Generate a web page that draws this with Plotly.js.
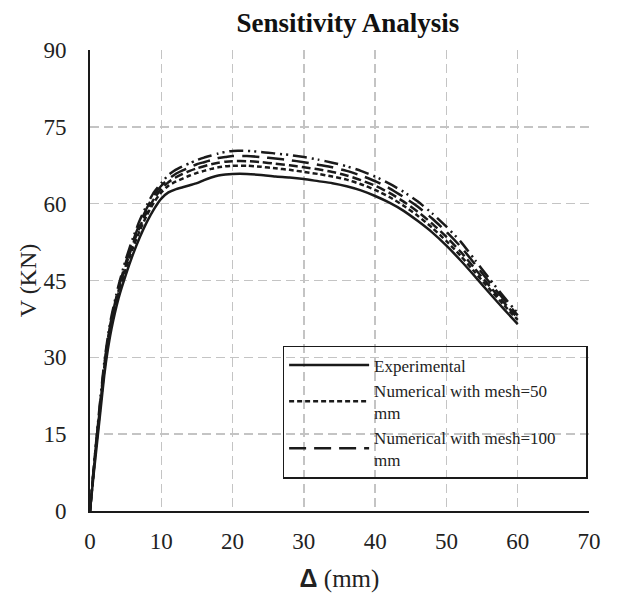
<!DOCTYPE html>
<html>
<head>
<meta charset="utf-8">
<script src="https://cdn.plot.ly/plotly-3.0.1.min.js"></script>
<style>html,body{margin:0;padding:0;background:#fff;}#chart{width:620px;height:597px;}</style>
</head>
<body>
<div id="chart"></div>
<script>
const deltaMm = [0,0.5,1,1.5,2,2.5,3,4,5,6,7,8,9,10,11,12,13,14,15,16,17,18,19,20,22,24,26,28,30,32,34,36,38,40,42,44,46,48,50,52,54,56,58,60];
const experimental = [0,7,13.5,20,26.5,31.5,35.5,41.5,46,50,53.5,56.5,59,61,62.2,62.8,63.2,63.6,64.0,64.6,65.1,65.5,65.7,65.8,65.8,65.6,65.3,65.1,64.8,64.4,64.0,63.4,62.6,61.5,60.2,58.6,56.6,54.4,51.8,48.9,45.8,42.6,39.5,36.5];
const mesh50 = [0,7.5,14.5,21,27.5,32.5,36.5,42.5,47.2,51.3,54.8,57.8,60.3,62.2,63.5,64.3,64.9,65.5,66.0,66.4,66.8,67.1,67.3,67.4,67.4,67.2,66.9,66.6,66.2,65.8,65.3,64.7,63.8,62.7,61.3,59.6,57.6,55.3,52.7,49.8,46.6,43.4,40.3,37.3];
const meshMid = [0,7.7,14.8,21.5,28,33,37,43,47.8,52,55.5,58.5,61,62.9,64.2,65.1,65.8,66.4,66.9,67.3,67.7,68.0,68.2,68.3,68.3,68.1,67.8,67.5,67.1,66.7,66.2,65.5,64.6,63.5,62.1,60.4,58.4,56.1,53.5,50.6,47.3,44.0,40.8,37.7];
const mesh100 = [0,7.9,15.2,22,28.5,33.5,37.5,43.5,48.4,52.6,56.2,59.2,61.7,63.5,64.8,65.8,66.5,67.1,67.7,68.1,68.5,68.9,69.1,69.3,69.3,69.1,68.8,68.5,68.1,67.6,67.1,66.4,65.5,64.4,63.0,61.3,59.4,57.1,54.5,51.6,48.2,44.7,41.4,38.2];
const meshTop = [0,8,15.5,22.5,29,34,38,44,49,53.2,56.8,59.8,62.3,64.0,65.6,66.6,67.3,67.9,68.5,69.0,69.4,69.8,70.1,70.3,70.3,70.1,69.8,69.5,69.1,68.6,68.0,67.3,66.4,65.3,63.9,62.3,60.4,58.1,55.5,52.6,49.0,45.4,41.9,38.6];
const xTicks = [0,10,20,30,40,50,60,70];
const yTicks = [0,15,30,45,60,75,90];

const serif = 'Liberation Serif, Times New Roman, serif';
const pad = '\u00A0'.repeat(6);
function tr(y, name, dash, show, rank) {
  return {x: deltaMm, y: y, name: name, type: 'scatter', mode: 'lines',
    line: {color: '#1a1a1a', width: 2.5, dash: dash, shape: 'spline', smoothing: 0.6},
    showlegend: show, legendrank: rank};
}
const data = [
  tr(meshTop, 'Numerical top', '14px,5px,2px,4px,2px,5px', false, 5),
  tr(mesh100, 'Numerical with mesh=100' + pad + '<br>mm', '17px,8px', true, 3),
  tr(meshMid, 'Numerical mid', '9px,4px', false, 4),
  tr(mesh50, 'Numerical with mesh=50<br>mm', '5px,3px', true, 2),
  tr(experimental, 'Experimental', 'solid', true, 1)
];
const layout = {
  width: 620, height: 597,
  margin: {l: 90, r: 31, t: 50, b: 86},
  paper_bgcolor: '#fff', plot_bgcolor: '#fff',
  font: {family: serif, size: 23, color: '#222'},
  title: {text: '<b>Sensitivity Analysis</b>', font: {family: serif, size: 27, color: '#111'},
    x: 0.517, xref: 'paper', y: 0.963, yref: 'container', xanchor: 'center', yanchor: 'middle'},
  xaxis: {range: [0, 70], tickvals: xTicks, ticktext: xTicks.map(String), showgrid: true,
    gridcolor: '#c4c4c4', griddash: '9px,5px', gridwidth: 1.5,
    showline: true, linecolor: '#1a1a1a', linewidth: 2, zeroline: false, ticks: '',
    tickfont: {family: serif, size: 23, color: '#222'}, ticklabelstandoff: 8,
    title: {text: '<span style="font-family:Liberation Sans, Arial, sans-serif;font-weight:bold">Δ</span> (mm)',
      font: {family: serif, size: 25, color: '#222'}, standoff: 17}},
  yaxis: {range: [0, 90], tickvals: yTicks, ticktext: yTicks.map(String), showgrid: true,
    gridcolor: '#c4c4c4', griddash: '9px,5px', gridwidth: 1.5,
    showline: true, linecolor: '#1a1a1a', linewidth: 2, zeroline: false, ticks: '',
    tickfont: {family: serif, size: 23, color: '#222'}, ticklabelstandoff: 17,
    title: {text: 'V (KN)', font: {family: serif, size: 24, color: '#222'}, standoff: 0}},
  legend: {x: 0.386, y: 0.358, xanchor: 'left', yanchor: 'top', bgcolor: 'rgba(0,0,0,0)',
    bordercolor: '#1a1a1a', borderwidth: 1.5, font: {family: serif, size: 17, color: '#222'},
    traceorder: 'normal', tracegroupgap: 0, itemwidth: 80}
};
Plotly.newPlot('chart', data, layout, {displayModeBar: false, staticPlot: true});
</script>
</body>
</html>
